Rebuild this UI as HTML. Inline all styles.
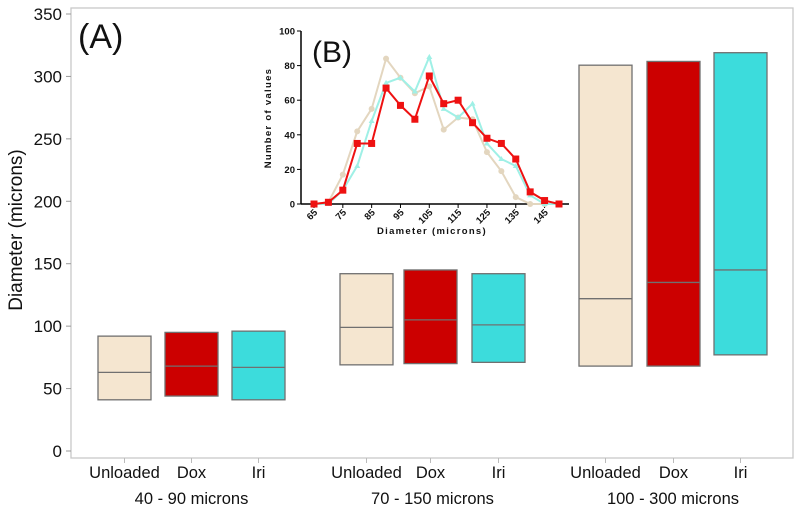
<!DOCTYPE html>
<html><head><meta charset="utf-8"><style>
body{margin:0;background:#fff}
svg{display:block;font-family:"Liberation Sans",sans-serif}
</style></head><body>
<svg id="c" width="800" height="510"></svg>
<script>
const groups=["40 - 90 microns","70 - 150 microns","100 - 300 microns"];
const treatments=["Unloaded","Dox","Iri"];
const boxLow=[[41,44,41],[69,70,71],[68,68,77]];
const boxMed=[[63,68,67],[99,105,101],[122,135,145]];
const boxHigh=[[92,95,96],[142,145,142],[309,312,319]];
const yTicks=[0,50,100,150,200,250,300,350];
const insetX=[65,70,75,80,85,90,95,100,105,110,115,120,125,130,135,140,145,150];
const insetXTicks=[65,75,85,95,105,115,125,135,145];
const insetYTicks=[0,20,40,60,80,100];
const tanVals=[0,1,17,42,55,84,73,64,68,43,50,49,30,19,4,0,0,0];
const cyanVals=[0,0,8,22,48,70,73,65,85,55,50,58,35,26,22,5,0,0];
const redVals=[0,1,8,35,35,67,57,49,74,58,60,47,38,35,26,7,2,0];

const NS="http://www.w3.org/2000/svg",svg=document.getElementById('c');
function el(t,a,p){const e=document.createElementNS(NS,t);for(const k in a)e.setAttribute(k,a[k]);(p||svg).appendChild(e);return e;}
const y=v=>451-v*1.2486;
const fills=["#f5e6d0","#cc0000","#3cdcdc"];
const boxX=[[98,165,232],[340,404,472],[579,647,714]];
let f=el('rect',{x:71,y:8,width:722,height:450,fill:'none',stroke:'#c8c8c8','stroke-width':1.3});

yTicks.forEach(t=>{
 let l=el('line',{x1:66,x2:71,y1:y(t),y2:y(t),stroke:'#999'});
 
 let tx=el('text',{x:62,y:y(t)+6,'text-anchor':'end','font-size':17,fill:'#111'});tx.textContent=t;
 
});
let yt=el('text',{transform:'translate(22,230) rotate(-90)','text-anchor':'middle','font-size':19,fill:'#111'});yt.textContent='Diameter (microns)';

let la=el('text',{x:78,y:48,'font-size':34,fill:'#111'});la.textContent='(A)';

groups.forEach((g,gi)=>{
 treatments.forEach((t,ti)=>{
  const x0=boxX[gi][ti],w=53,cx=x0+w/2;
  let r=el('rect',{x:x0,y:y(boxHigh[gi][ti]),width:w,height:y(boxLow[gi][ti])-y(boxHigh[gi][ti]),fill:fills[ti],stroke:'#707070','stroke-width':1.3});
  
  let m=el('line',{x1:x0,x2:x0+w,y1:y(boxMed[gi][ti]),y2:y(boxMed[gi][ti]),stroke:'#707070','stroke-width':1.3});
  
  let tk=el('line',{x1:cx,x2:cx,y1:458,y2:463,stroke:'#bbb'});
  
  let tl=el('text',{x:cx,y:478,'text-anchor':'middle','font-size':16.5,fill:'#111'});tl.textContent=t;
  
 });
 const gc=(boxX[gi][0]+boxX[gi][2]+53)/2;
 let gl=el('text',{x:gc,y:504,'text-anchor':'middle','font-size':16.5,fill:'#111'});gl.textContent=g;
 
});
const ix=v=>314+(v-65)*(245/85), iy=v=>204-v*1.73;
let ia=el('line',{x1:301,x2:301,y1:iy(100),y2:204,stroke:'#000','stroke-width':1.5});

let ib=el('line',{x1:301,x2:569,y1:204,y2:204,stroke:'#000','stroke-width':1.5});

insetYTicks.forEach(t=>{
 let l=el('line',{x1:297,x2:301,y1:iy(t),y2:iy(t),stroke:'#000'});
 
 let tx=el('text',{x:295,y:iy(t)+3.5,'text-anchor':'end','font-size':9.5,'font-weight':'bold',fill:'#111'});tx.textContent=t;
 
});
insetXTicks.forEach(t=>{
 let l=el('line',{x1:ix(t),x2:ix(t),y1:204,y2:208,stroke:'#000'});
 
 let tx=el('text',{transform:`translate(${ix(t)+4},${213}) rotate(-45)`,'text-anchor':'end','font-size':9.5,'font-weight':'bold',fill:'#111'});tx.textContent=t;
 
});
let ixt=el('text',{x:432,y:234,'text-anchor':'middle','font-size':9.5,'font-weight':'bold','letter-spacing':1.3,fill:'#111'});ixt.textContent='Diameter (microns)';

let iyt=el('text',{transform:'translate(271,118) rotate(-90)','text-anchor':'middle','font-size':9.5,'font-weight':'bold','letter-spacing':1.3,fill:'#111'});iyt.textContent='Number of values';

let lb=el('text',{x:312,y:62,'font-size':30,fill:'#111'});lb.textContent='(B)';

function series(vals,col,name,marker,w){
 let p=el('polyline',{points:vals.map((v,i)=>ix(insetX[i])+','+iy(v)).join(' '),fill:'none',stroke:col,'stroke-width':w});
 
 vals.forEach((v,i)=>{
  let m;
  if(marker==='sq')m=el('rect',{x:ix(insetX[i])-3.5,y:iy(v)-3.5,width:7,height:7,fill:col});
  else if(marker==='tri')m=el('polygon',{points:`${ix(insetX[i])},${iy(v)-3} ${ix(insetX[i])-3},${iy(v)+2} ${ix(insetX[i])+3},${iy(v)+2}`,fill:col});
  else m=el('circle',{cx:ix(insetX[i]),cy:iy(v),r:3,fill:col});
  
 });
}
series(tanVals,'#e3d6bf','unloaded-series','circ',2);
series(cyanVals,'#9ff0e6','iri-series','tri',2);
series(redVals,'#ee1111','dox-series','sq',2);
</script>
</body></html>
